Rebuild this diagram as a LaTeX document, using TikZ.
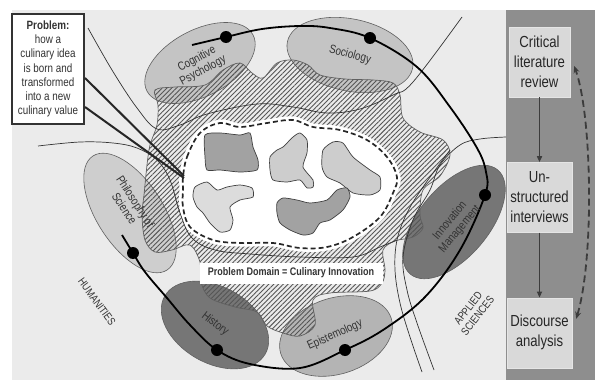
\documentclass[tikz,border=0pt]{standalone}
\usepackage{fontspec}
\setmainfont{Liberation Sans}[FakeStretch=0.82]
\usetikzlibrary{arrows.meta,positioning,patterns.meta}
\definecolor{bgc}{HTML}{EBEBEB}
\definecolor{panelc}{HTML}{8E8E8E}
\definecolor{boxc}{HTML}{D9D9D9}
\definecolor{discl}{HTML}{C4C4C4}
\definecolor{discp}{HTML}{CECECE}
\definecolor{disce}{HTML}{B4B4B4}
\definecolor{discd}{HTML}{767676}
\definecolor{discline}{HTML}{606060}
\definecolor{hatchc}{HTML}{555555}
\definecolor{textc}{HTML}{333333}
\definecolor{arrc}{HTML}{3C3C3C}
\definecolor{blobd}{HTML}{A2A2A2}
\definecolor{blobl}{HTML}{CDCDCD}

\begin{document}
\begin{tikzpicture}[x=1pt, y=-1pt,
  lightdisc/.style={fill=discl, draw=discline, line width=0.6pt},
  darkdisc/.style={fill=discd, draw=discline, line width=0.6pt},
  hatch/.style={pattern={Lines[angle=45, distance=3.4pt, line width=0.9pt]}, pattern color=hatchc, draw=discline, line width=0.7pt},
  halo/.style={fill=white, draw=white, line width=7pt},
  core/.style={draw=black!85, line width=1.7pt, dash pattern=on 5pt off 3pt},
  idea/.style={draw=black!75, line width=0.7pt},
  boundary/.style={draw=black!80, line width=0.7pt},
  orbit/.style={line width=1.8pt},
  pointer/.style={draw=black!85, line width=2pt},
  disclabel/.style={font=\fontsize{12}{13}\selectfont, text=textc, align=center},
  problembox/.style={draw=black!80, line width=2pt, fill=white, minimum width=72pt, minimum height=110pt, align=center, text=textc, font=\fontsize{12}{14.2}\selectfont},
  domainlabel/.style={fill=white, font=\bfseries\fontsize{11}{12}\selectfont, text=textc, minimum width=183pt, minimum height=21pt, inner sep=2pt},
  methodbox/.style={draw=black!10, fill=boxc, minimum width=61pt, minimum height=70pt, align=center, text=black!85, font=\fontsize{16}{20}\selectfont},
  arr/.style={-{Triangle[length=6pt, width=5pt]}, line width=1.6pt, draw=arrc},
  loopback/.style={{Stealth[length=7pt, width=6pt]}-{Stealth[length=7pt, width=6pt]}, line width=1.8pt, draw=arrc, dash pattern=on 7pt off 4pt},
  node distance=65pt
]
  \useasboundingbox (0,0) rectangle (595,380);
  \fill[bgc] (12,10) rectangle (506,380);
  \fill[panelc] (506,10) rectangle (595,380);

  % disciplines
  \draw[lightdisc, rotate around={28:(200,63)}] (200,63) ellipse [x radius=60pt, y radius=33pt];
  \draw[lightdisc, rotate around={-12:(350,55)}] (350,55) ellipse [x radius=64pt, y radius=36pt];
  \draw[lightdisc, fill=discp, rotate around={-57:(130,213)}] (130,213) ellipse [x radius=68pt, y radius=33pt];
  \draw[darkdisc, rotate around={50:(454,222)}] (454,222) ellipse [x radius=68pt, y radius=35pt];
  \draw[darkdisc, rotate around={-30:(215,325)}] (215,325) ellipse [x radius=58pt, y radius=38pt];
  \draw[lightdisc, fill=disce, rotate around={18:(336,336)}] (336,336) ellipse [x radius=58pt, y radius=38pt];

  % problem domain
  \path[hatch] plot[smooth cycle, tension=0.55] coordinates {
    (155,90) (175,87) (205,85) (223,70) (240,63) (252,73) (263,78) (277,63)
    (293,60) (308,65) (320,75) (345,79) (373,80) (393,83) (400,95) (403,118)
    (420,132) (443,140) (450,155) (440,176) (423,190) (420,215) (423,228)
    (413,237) (395,241) (383,250) (385,270) (382,283) (370,291) (330,293)
    (313,300) (315,325) (300,336) (283,333) (267,326) (257,312) (235,307)
    (210,298) (201,282) (200,262) (190,245) (172,250) (155,252) (145,240)
    (142,215) (144,195) (147,165) (150,145) (157,125) (158,105)};
  \path[halo] plot[smooth cycle, tension=0.6] coordinates {
    (183,177) (187,157) (200,133) (220,123) (240,127) (267,123) (293,120)
    (313,127) (340,130) (367,140) (387,157) (397,177) (393,193) (380,217)
    (353,237) (327,247) (300,248) (273,243) (240,243) (213,240) (190,227)
    (183,207) (183,190)};
  \path[core] plot[smooth cycle, tension=0.6] coordinates {
    (183,177) (187,157) (200,133) (220,123) (240,127) (267,123) (293,120)
    (313,127) (340,130) (367,140) (387,157) (397,177) (393,193) (380,217)
    (353,237) (327,247) (300,248) (273,243) (240,243) (213,240) (190,227)
    (183,207) (183,190)};

  % ideas
  \path[idea, fill=blobd] plot[smooth cycle, tension=0.4] coordinates {
    (205,135) (220,133) (240,135) (250,133) (253,147) (258,160) (257,170)
    (240,172) (220,170) (207,170) (205,157)};
  \path[idea, fill=blobl] plot[smooth cycle, tension=0.4] coordinates {
    (270,157) (277,150) (283,147) (293,137) (300,133) (307,140) (307,153)
    (303,167) (313,180) (313,187) (307,188) (300,180) (287,182) (273,180) (270,170)};
  \path[idea, fill=blobl] plot[smooth cycle, tension=0.4] coordinates {
    (323,150) (333,142) (343,143) (353,157) (370,170) (380,177) (380,190)
    (370,195) (353,193) (340,183) (327,177) (322,167)};
  \path[idea, fill=blobl!70!white] plot[smooth cycle, tension=0.4] coordinates {
    (195,187) (207,182) (217,190) (227,187) (240,185) (252,188) (253,197)
    (240,200) (230,207) (233,220) (230,230) (220,232) (210,223) (203,213)
    (197,207) (193,197)};
  \path[idea, fill=blobd] plot[smooth cycle, tension=0.4] coordinates {
    (277,203) (283,198) (297,200) (310,203) (327,200) (337,190) (347,188)
    (350,197) (343,210) (330,220) (320,223) (313,233) (303,235) (290,230)
    (280,223) (277,213)};

  % field boundaries
  \draw[boundary] plot[smooth, tension=0.6] coordinates {(88,28) (112,70) (137,108)
    (157,129) (180,125) (207,114) (257,104) (293,107) (327,113) (360,109) (393,95) (413,82) (462,17)};
  \draw[boundary] plot[smooth, tension=0.6] coordinates {(38,146) (80,142) (113,143)
    (137,148) (157,160) (170,180) (180,213) (192,238) (215,250) (250,254) (300,257)
    (353,257) (380,247) (397,240)};
  \draw[boundary] plot[smooth, tension=0.6] coordinates {(450,150) (423,187) (407,213)
    (397,240) (395,270) (400,303) (410,337) (422,372)};
  \draw[boundary] plot[smooth, tension=0.6] coordinates {(506,137) (480,139) (460,145)
    (440,165) (430,190) (413,220) (403,257) (407,290) (417,323) (434,370)};

  % orbit through the disciplines
  \draw[orbit] plot[smooth, tension=0.6] coordinates {(122,235) (133,253) (145,272)
    (167,298) (190,325) (217,350) (250,364) (300,368) (345,350) (383,330) (425,297)
    (460,250) (485,195) (486,172) (477,148) (450,107) (417,67) (370,38) (330,28)
    (300,26) (262,29) (226,37) (192,45)};
  \foreach \p in {(133,253),(217,350),(345,350),(485,195),(370,38),(226,37)}
    \fill \p circle[radius=6pt];

  % problem statement
  \node[problembox] (problem) at (48,69) {\textbf{Problem:}\\how a\\culinary idea\\is born and\\transformed\\into a new\\culinary value};
  \coordinate (focus) at (184,176);
  \draw[pointer] ([yshift=-9pt]problem.east) -- (focus);
  \draw[pointer] ([yshift=-38pt]problem.east) -- ([yshift=-2pt]focus);

  \node[domainlabel] (domain) at (291,273) {Problem Domain = Culinary Innovation};

  % labels
  \node[disclabel, rotate=28] (cogpsy) at (200,65) {Cognitive\\Psychology};
  \node[disclabel, rotate=-15] (socio) at (350,55) {Sociology};
  \node[disclabel, rotate=-57] (philo) at (130,205) {Philosophy of\\Science};
  \node[disclabel, rotate=50] (innov) at (455,225) {Innovation\\Management};
  \node[disclabel, rotate=-38] (hist) at (215,324) {History};
  \node[disclabel, rotate=24] (episte) at (335,335) {Epistemology};
  \node[disclabel, font=\fontsize{11}{12}\selectfont, rotate=-54] (human) at (97,302) {HUMANITIES};
  \node[disclabel, font=\fontsize{11}{12}\selectfont, rotate=52] (applied) at (473,312) {APPLIED\\SCIENCES};

  % method
  \node[methodbox] (crit) at (539.5,62) {Critical\\literature\\review};
  \node[methodbox, below=of crit] (interv) {Un-\\structured\\interviews};
  \node[methodbox, below=of interv] (disc) {Discourse\\analysis};
  \draw[arr] (crit) -- (interv);
  \draw[arr] (interv) -- (disc);
  \draw[loopback] ([shift={(4,-14)}]disc.east) .. controls +(18,-60) and +(18,50) .. ([shift={(4,4)}]crit.east);
\end{tikzpicture}
\end{document}
